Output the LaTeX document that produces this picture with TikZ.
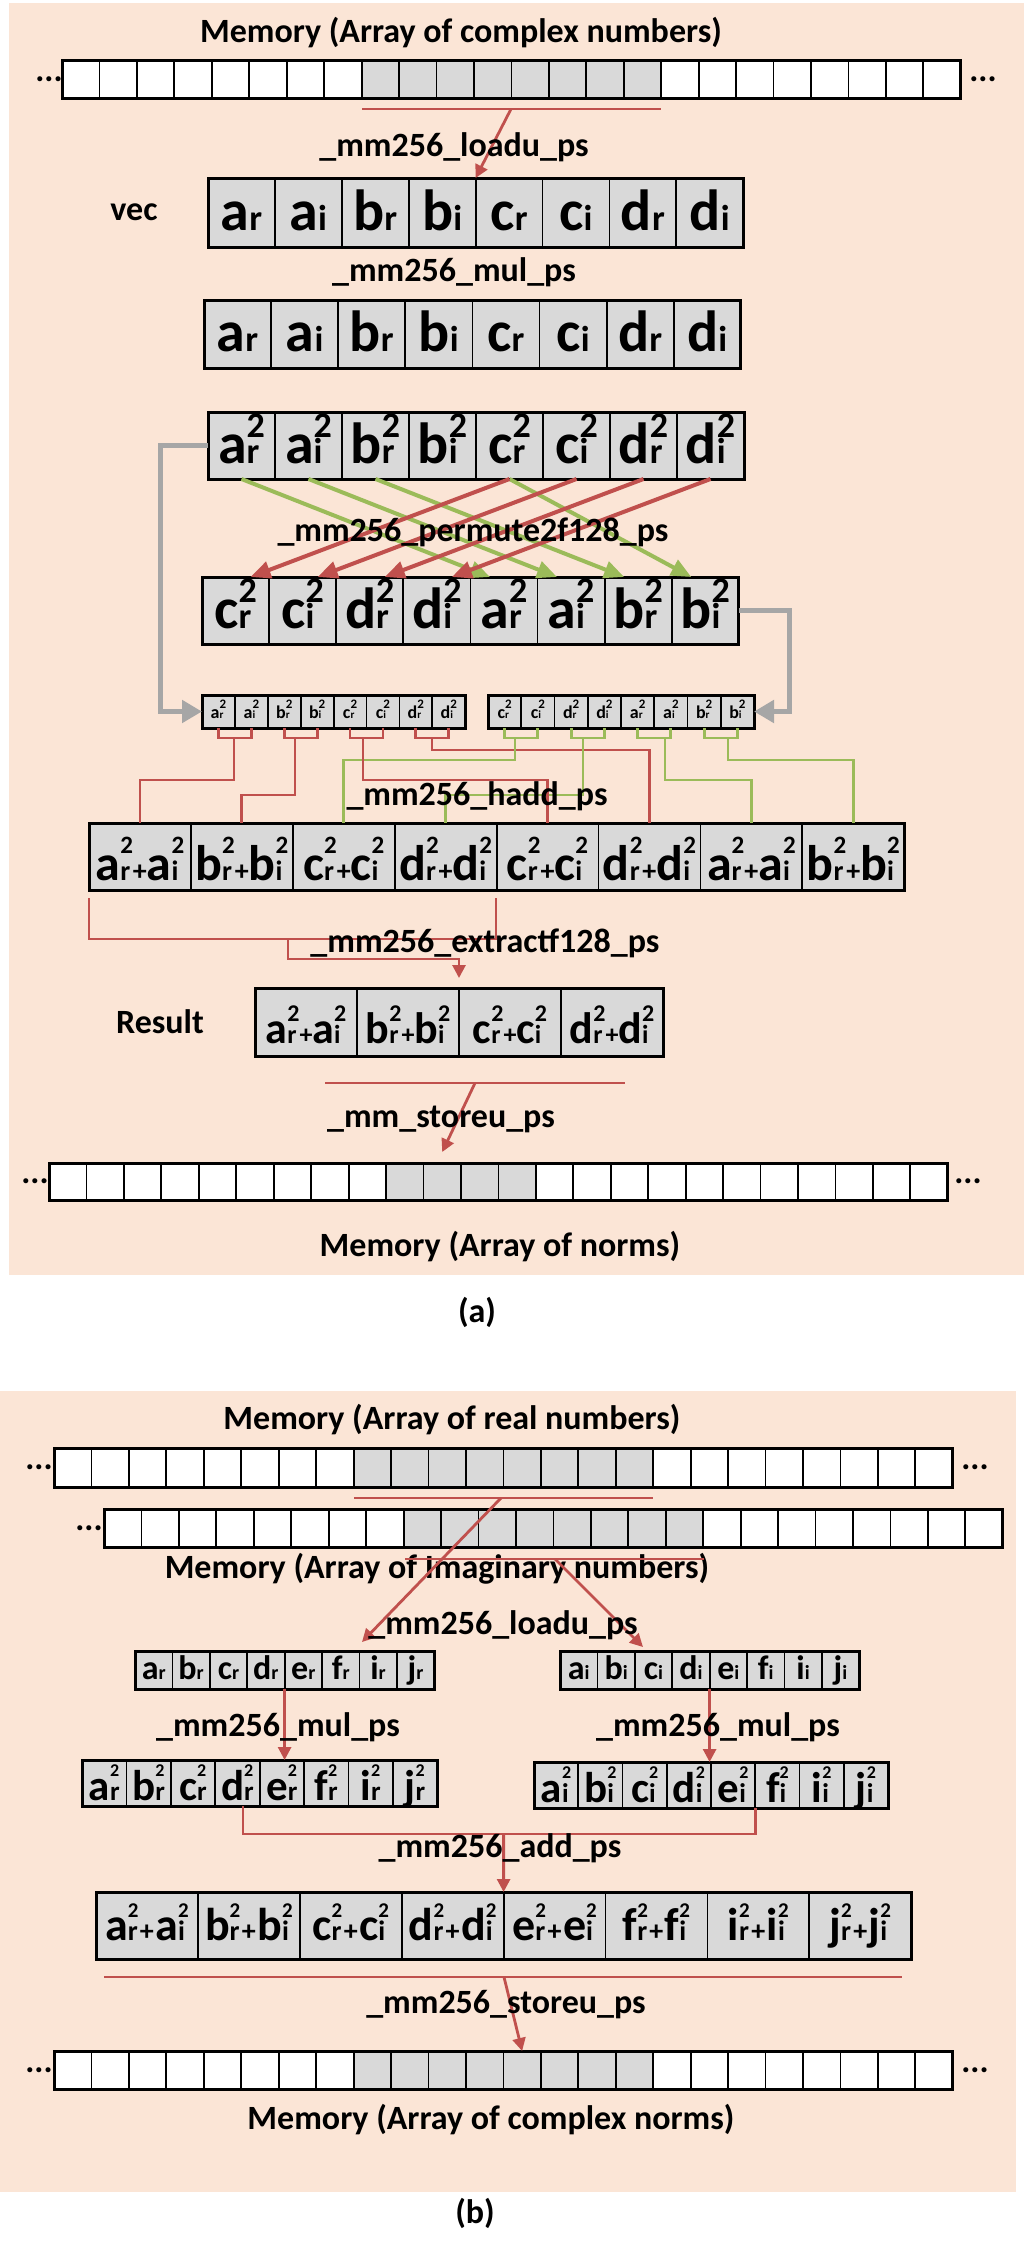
\documentclass[tikz,border=0pt]{standalone}
\usepackage{fontspec}
\setmainfont{Carlito}
\usetikzlibrary{arrows.meta,calc}
\definecolor{peach}{HTML}{FBE5D6}
\definecolor{cellgray}{HTML}{D9D9D9}
\definecolor{myred}{HTML}{C0504D}
\definecolor{mygreen}{HTML}{9BBB59}
\definecolor{mygray}{HTML}{A6A6A6}
% letter with stacked sub/sup: #1 main size, #2 sub size, #3 sup size, #4 raise, #5 letter, #6 sub, #7 sup
\newcommand\cv[7]{\mbox{\fontsize{#1}{#1}\selectfont #5}\mbox{\setbox0\hbox{\fontsize{#2}{#2}\selectfont #6}\setbox2\hbox{\fontsize{#3}{#3}\selectfont #7}\ifdim\wd0<\wd2 \wd0=\wd2 \fi\rlap{\raise#4pt\box2}\box0}}
\newcommand\va[2]{\cv{58}{36}{36}{26}{#1}{#2}{}}
\newcommand\sa[2]{\cv{58}{36}{36}{26}{#1}{#2}{2}}
\newcommand\tq[2]{\cv{18}{11}{13}{10}{#1}{#2}{2}}
\newcommand\ha[1]{\cv{50}{28}{25}{27}{#1}{r}{2}\mbox{\fontsize{28}{28}\selectfont+}\cv{50}{28}{25}{27}{#1}{i}{2}}
\newcommand\ra[1]{\cv{44}{26}{24}{22}{#1}{r}{2}\mbox{\fontsize{26}{26}\selectfont+}\cv{44}{26}{24}{22}{#1}{i}{2}}
\newcommand\lb[2]{\cv{34}{20}{20}{0}{#1}{#2}{}}
\newcommand\qb[2]{\cv{43}{27}{18}{24}{#1}{#2}{2}}
\newcommand\bq[1]{\cv{46}{28}{21}{23}{#1}{r}{2}\mbox{\kern1.5pt\fontsize{28}{28}\selectfont+\kern1.5pt}\cv{46}{28}{21}{23}{#1}{i}{2}}
% memory row: #1 name, #2 x0, #3 cy, #4 h, #5 first gray, #6 last gray, #7 last index
\newcommand\mrow[7]{%
 \foreach \i in {0,...,#7}{%
  \pgfmathsetmacro\cx{#2+37.45*\i+18.725}%
  \node[mcell, minimum width=37.45pt, minimum height=#4pt] (#1\i) at (\cx,#3) {};
 }%
 \foreach \i in {#5,...,#6}{%
  \pgfmathsetmacro\cx{#2+37.45*\i+18.725}%
  \node[mcell, fill=cellgray, minimum width=37.45pt, minimum height=#4pt] (#1\i) at (\cx,#3) {};
 }%
 \draw[line width=3pt] (#10.north west) rectangle (#1#7.south east);
}
% data row: #1 name, #2 x0, #3 cy, #4 cw, #5 h, #6 last index, #7 options, #8 items
\newcommand\drow[8]{%
 \foreach \t [count=\k from 0] in {#8}{%
  \pgfmathsetmacro\cx{#2+#4*\k+#4/2}%
  \node[dcell, minimum width=#4pt, minimum height=#5pt, #7] (#1\k) at (\cx,#3) {\t};
 }%
 \draw[line width=3pt] (#10.north west) rectangle (#1#6.south east);
}
\begin{document}
\begin{tikzpicture}[x=1pt,y=-1pt,
 lbl/.style={font=\fontsize{34}{40}\selectfont\bfseries, inner sep=0pt},
 elli/.style={font=\fontsize{34}{40}\selectfont\bfseries, inner sep=0pt},
 mcell/.style={draw=black, line width=1.8pt, fill=white, inner sep=0pt, outer sep=0pt},
 dcell/.style={draw=black, line width=1.8pt, fill=cellgray, inner sep=0pt, outer sep=0pt, font=\bfseries},
 redln/.style={draw=myred, line width=2.8pt},
 grnln/.style={draw=mygreen, line width=2.8pt},
 redarr/.style={draw=myred, line width=2.8pt, -{Triangle[length=13pt,width=13pt]}},
 permr/.style={draw=myred, line width=4pt, -{Triangle[length=20pt,width=17pt]}},
 permg/.style={draw=mygreen, line width=4pt, -{Triangle[length=20pt,width=17pt]}},
 grayarr/.style={draw=mygray, line width=5pt, -{Triangle[length=20pt,width=22pt]}}]
\useasboundingbox (0,0) rectangle (1024,2251);
\fill[white] (0,0) rectangle (1024,2251);
\fill[peach] (9,3) rectangle (1024,1275);
\fill[peach] (0,1391) rectangle (1016,2192);

% ================= (a) =================
\mrow{ma}{62}{79}{38}{8}{15}{23}
\node[elli] (maL) at (49,79) {...};
\node[elli] (maR) at (983,79) {...};
\coordinate (ua1) at (362,109);
\coordinate (ua2) at (661,109);
\coordinate (ua3) at (511,109);
\draw[redln] (ua1) -- (ua2);

\drow{va}{208}{212.5}{66.9}{69}{7}{text height=40pt,text depth=5pt}{\va{a}{r},\va{a}{i},\va{b}{r},\va{b}{i},\va{c}{r},\va{c}{i},\va{d}{r},\va{d}{i}}
\drow{vb}{204}{334}{67.1}{68}{7}{text height=40pt,text depth=5pt}{\va{a}{r},\va{a}{i},\va{b}{r},\va{b}{i},\va{c}{r},\va{c}{i},\va{d}{r},\va{d}{i}}
\drow{vc}{208}{445.5}{67}{67}{7}{text height=40pt,text depth=5pt}{\sa{a}{r},\sa{a}{i},\sa{b}{r},\sa{b}{i},\sa{c}{r},\sa{c}{i},\sa{d}{r},\sa{d}{i}}
\drow{vd}{202}{610.5}{67.1}{67}{7}{text height=40pt,text depth=5pt}{\sa{c}{r},\sa{c}{i},\sa{d}{r},\sa{d}{i},\sa{a}{r},\sa{a}{i},\sa{b}{r},\sa{b}{i}}
\drow{ta}{202}{711.5}{32.9}{33}{7}{text height=16pt,text depth=3pt}{\tq{a}{r},\tq{a}{i},\tq{b}{r},\tq{b}{i},\tq{c}{r},\tq{c}{i},\tq{d}{r},\tq{d}{i}}
\drow{tb}{488}{711.5}{33.25}{33}{7}{text height=16pt,text depth=3pt}{\tq{c}{r},\tq{c}{i},\tq{d}{r},\tq{d}{i},\tq{a}{r},\tq{a}{i},\tq{b}{r},\tq{b}{i}}
\drow{hr}{89}{856.5}{101.9}{67}{7}{text height=50pt,text depth=3pt}{\ha{a},\ha{b},\ha{c},\ha{d},\ha{c},\ha{d},\ha{a},\ha{b}}
\drow{rr}{255}{1022}{102}{68}{3}{text height=45pt,text depth=3pt}{\ra{a},\ra{b},\ra{c},\ra{d}}
\mrow{mb}{49}{1181.5}{37}{9}{12}{23}
\node[elli] (mbL) at (35,1181.5) {...};
\node[elli] (mbR) at (968,1181.5) {...};

\draw[redarr] (ua3) -- (va3.north east);

% permutation
\draw[permg] (vc0.south) -- ($(vd4.north)+(-14,0)$);
\draw[permg] (vc1.south) -- ($(vd5.north)+(-14,0)$);
\draw[permg] (vc2.south) -- ($(vd6.north)+(-14,0)$);
\draw[permg] (vc4.south) -- ($(vd7.north)+(-14,0)$);
\draw[permr] (vc4.south) -- ($(vd0.north)+(15,0)$);
\draw[permr] (vc5.south) -- ($(vd1.north)+(15,0)$);
\draw[permr] (vc6.south) -- ($(vd2.north)+(15,0)$);
\draw[permr] (vc7.south) -- ($(vd3.north)+(15,0)$);

% gray feed arrows
\draw[grayarr] (vc0.west) -- ++(-48,0) |- (ta0.west);
\draw[grayarr] (vd7.east) -- ++(51,0) |- (tb7.east);

% hadd brackets
\foreach \p/\q in {0/1,2/3,4/5,6/7}{%
 \draw[redln] (ta\p.south) -- ++(0,10) -| (ta\q.south);
 \draw[grnln] (tb\p.south) -- ++(0,10) -| (tb\q.south);
}
\coordinate (ja) at (234,738);
\coordinate (jb) at (295,738);
\coordinate (jc) at (363,738);
\coordinate (jd) at (432,738);
\coordinate (gc) at (515,738);
\coordinate (gd) at (583,738);
\coordinate (ga) at (665,738);
\coordinate (gb) at (728,738);
\draw[redln] (jd) -- ++(0,12) -| (hr5.north);
\draw[grnln] (gc) -- ++(0,22) -| (hr2.north);
\draw[grnln] (gb) -- ++(0,22) -| (hr7.north);
\draw[grnln] (gd) -- ++(0,57) -| (hr3.north);
\draw[grnln] (ga) -- ++(0,42) -| (hr6.north);
\draw[redln] (ja) -- ++(0,42) -| (hr0.north);
\draw[redln] (jb) -- ++(0,57) -| (hr1.north);
\draw[redln] (jc) -- ++(0,42) -| (hr4.north);

% extract
\coordinate (xa1) at (89,898);
\coordinate (xa2) at (496,898);
\coordinate (xm) at (288,939);
\draw[redln] (xa1) -- ++(0,41) -| (xa2);
\draw[redarr] (xm) -- ++(0,20) -| ($(rr1.north east)+(0,-10)$);

% store
\coordinate (us1) at (325,1083);
\coordinate (us2) at (625,1083);
\coordinate (us3) at (475,1083);
\draw[redln] (us1) -- (us2);
\draw[redarr] (us3) -- ($(mb10.north)+(0,-11)$);

% labels (a)
\node[lbl] (titA) at (461,33) {Memory (Array of complex numbers)};
\node[lbl] (lload) at (454,147) {\_mm256\_loadu\_ps};
\node[lbl] (lvec) at (134,212) {vec};
\node[lbl] (lmul) at (454,272) {\_mm256\_mul\_ps};
\node[lbl] (lperm) at (473,532) {\_mm256\_permute2f128\_ps};
\node[lbl] (lhadd) at (477,796) {\_mm256\_hadd\_ps};
\node[lbl] (lext) at (485,943) {\_mm256\_extractf128\_ps};
\node[lbl] (lres) at (160,1022) {Result};
\node[lbl] (lst) at (441,1119) {\_mm\_storeu\_ps};
\node[lbl] (botA) at (500,1247) {Memory (Array of norms)};
\node[lbl] (capA) at (477,1312) {(a)};

% ================= (b) =================
\mrow{mr}{54}{1467.5}{39}{8}{15}{23}
\node[elli] (mrL) at (39,1467.5) {...};
\node[elli] (mrR) at (975,1467.5) {...};
\mrow{mi}{104}{1528}{38}{8}{15}{23}
\node[elli] (miL) at (89,1528) {...};
\coordinate (ur1) at (354,1498);
\coordinate (ur2) at (653,1498);
\coordinate (ur3) at (501,1498);
\coordinate (ui1) at (405,1559);
\coordinate (ui2) at (704,1559);
\coordinate (ui3) at (555,1559);
\node[lbl] (lim) at (437,1569) {Memory (Array of Imaginary numbers)};
\draw[redln] (ur1) -- (ur2);
\draw[redln] (ui1) -- (ui2);

\drow{lr}{135}{1670}{37.4}{38}{7}{text height=20pt,text depth=2pt}{\lb{a}{r},\lb{b}{r},\lb{c}{r},\lb{d}{r},\lb{e}{r},\lb{f}{r},\lb{i}{r},\lb{j}{r}}
\drow{rl}{560}{1670}{37.4}{38}{7}{text height=20pt,text depth=2pt}{\lb{a}{i},\lb{b}{i},\lb{c}{i},\lb{d}{i},\lb{e}{i},\lb{f}{i},\lb{i}{i},\lb{j}{i}}
\drow{ls}{82}{1783}{44.4}{46}{7}{text height=36pt,text depth=2pt}{\qb{a}{r},\qb{b}{r},\qb{c}{r},\qb{d}{r},\qb{e}{r},\qb{f}{r},\qb{i}{r},\qb{j}{r}}
\drow{rs}{534}{1785}{44.25}{46}{7}{text height=36pt,text depth=2pt}{\qb{a}{i},\qb{b}{i},\qb{c}{i},\qb{d}{i},\qb{e}{i},\qb{f}{i},\qb{i}{i},\qb{j}{i}}
\drow{bb}{96}{1925.5}{101.9}{67}{7}{text height=31pt,text depth=2pt}{\bq{a},\bq{b},\bq{c},\bq{d},\bq{e},\bq{f},\bq{i},\bq{j}}
\mrow{mo}{54}{2070}{38}{8}{15}{23}
\node[elli] (moL) at (39,2070) {...};
\node[elli] (moR) at (975,2070) {...};

\coordinate (lrt) at (362,1642);
\coordinate (rlt) at (643,1647);
\draw[redarr] (ur3) -- (lrt);
\draw[redarr] (ui3) -- (rlt);
\draw[redarr] (lr3.south east) -- (lr3.south east |- ls4.north);
\draw[redarr] (rl3.south east) -- (rl3.south east |- rs4.north);
\coordinate (ad1) at (243,1806);
\coordinate (ad2) at (503.6,1834);
\draw[redln] (ad1) -- ++(0,28) -| (rs4.south east);
\draw[redarr] (ad2) -- (bb3.north east);
\coordinate (ub1) at (104,1977);
\coordinate (ub2) at (902,1977);
\coordinate (ub3) at (504,1977);
\draw[redln] (ub1) -- (ub2);
\draw[redarr] (ub3) -- (mo12.north);

\node[lbl] (titB) at (452,1420) {Memory (Array of real numbers)};
\node[lbl] (lloadb) at (503,1625) {\_mm256\_loadu\_ps};
\node[lbl] (lmul1) at (278,1727) {\_mm256\_mul\_ps};
\node[lbl] (lmul2) at (718,1727) {\_mm256\_mul\_ps};
\node[lbl] (ladd) at (500,1848) {\_mm256\_add\_ps};
\node[lbl] (lstb) at (506,2005) {\_mm256\_storeu\_ps};
\node[lbl] (botB) at (491,2120) {Memory (Array of complex norms)};
\node[lbl] (capB) at (475,2213) {(b)};
\end{tikzpicture}
\end{document}
